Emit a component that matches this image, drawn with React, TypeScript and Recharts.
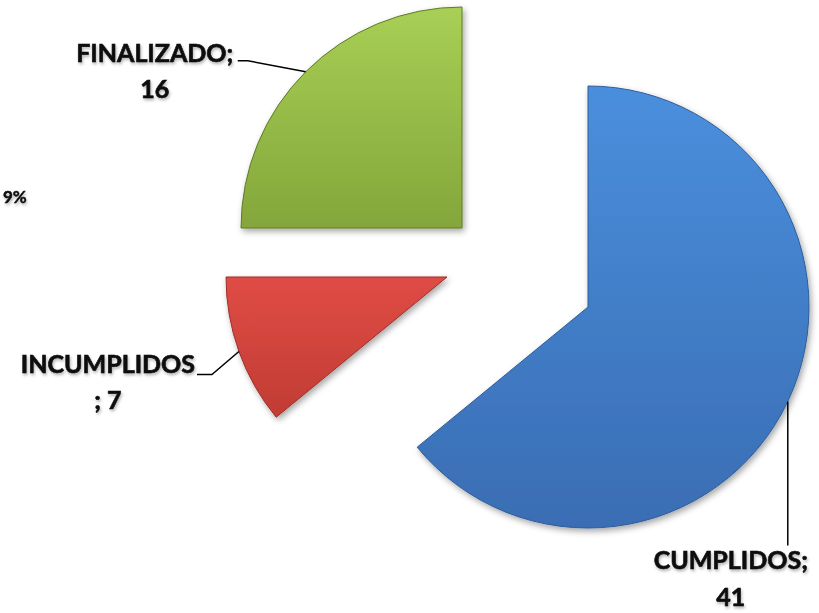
import { FC } from "react";
import { Cell, Pie, PieChart } from "recharts";

const names = ["CUMPLIDOS", "INCUMPLIDOS", "FINALIZADO"];
const counts = [41, 7, 16];
const strayLabel = "9%";

const colors = [
  { id: "gBlue", top: "#4a8fdd", bottom: "#3a6db3", edge: "#2f5c99" },
  { id: "gRed", top: "#df4c45", bottom: "#c13c34", edge: "#9c2e28" },
  { id: "gGreen", top: "#a8cf55", bottom: "#84a63b", edge: "#5f7a26" },
];

// exploded slices: each one gets its own pie centre
const centers = [
  { cx: 588, cy: 307 },
  { cx: 447, cy: 277 },
  { cx: 462, cy: 228 },
];

// label geometry relative to the point where the leader line leaves the slice
const labelLayout = [
  { line: [[0, 144]], tx: -57, ty: 168, gap: 37, l1: (n: string) => `${n};`, l2: (v: number) => `${v}` },
  { line: [[-27, 23], [-42, 23]], tx: -131, ty: 22, gap: 36, l1: (n: string) => n, l2: (v: number) => `; ${v}` },
  { line: [[-58, -11], [-68, -11]], tx: -151, ty: -10, gap: 36, l1: (n: string) => `${n};`, l2: (v: number) => `${v}` },
];

const data = names.map((name, i) => ({ name, value: counts[i] }));
const RAD = Math.PI / 180;
const R = 221;

const makeLabel = (target: number) => (props: any) => {
  const { cx, cy, midAngle, index, name, value } = props;
  if (index !== target) return null;
  const ax = cx + R * Math.cos(-midAngle * RAD);
  const ay = cy + R * Math.sin(-midAngle * RAD);
  const lay = labelLayout[target];
  const pts = [[ax, ay], ...lay.line.map(([dx, dy]) => [ax + dx, ay + dy])];
  return (
    <g>
      <polyline
        points={pts.map((p) => p.join(",")).join(" ")}
        fill="none"
        stroke="#000"
        strokeWidth={1.5}
      />
      <text
        x={ax + lay.tx}
        y={ay + lay.ty}
        textAnchor="middle"
        fontFamily="Lato, sans-serif"
        fontWeight={700}
        fontSize={25}
        fill="#0a0a0a"
        stroke="#0a0a0a"
        strokeWidth={0.6}
        filter="url(#txtShadow)"
      >
        <tspan x={ax + lay.tx} dy={0}>
          {lay.l1(name)}
        </tspan>
        <tspan x={ax + lay.tx} dy={lay.gap}>
          {lay.l2(value)}
        </tspan>
      </text>
    </g>
  );
};

const App: FC = () => {
  return (
    <div style={{ position: "absolute", left: 0, top: 0, background: "#fff" }}>
      <PieChart width={819} height={613} margin={{ top: 0, right: 0, bottom: 0, left: 0 }}>
        <defs>
          {colors.map((c) => (
            <linearGradient key={c.id} id={c.id} x1="0" y1="0" x2="0" y2="1">
              <stop offset="0%" stopColor={c.top} />
              <stop offset="100%" stopColor={c.bottom} />
            </linearGradient>
          ))}
          <filter id="sliceShadow" x="-10%" y="-10%" width="125%" height="125%">
            <feDropShadow dx={2} dy={3} stdDeviation={3} floodColor="#000" floodOpacity={0.35} />
          </filter>
          <filter id="txtShadow" x="-10%" y="-20%" width="120%" height="160%">
            <feDropShadow dx={1} dy={2} stdDeviation={1.5} floodColor="#000" floodOpacity={0.3} />
          </filter>
        </defs>
        {centers.map((c, target) => (
          <Pie
            key={names[target]}
            data={data}
            dataKey="value"
            nameKey="name"
            cx={c.cx}
            cy={c.cy}
            outerRadius={R}
            startAngle={90}
            endAngle={-270}
            label={makeLabel(target)}
            labelLine={false}
            isAnimationActive={false}
          >
            {data.map((d, i) => (
              <Cell
                key={d.name}
                fill={i === target ? `url(#${colors[i].id})` : "none"}
                stroke={i === target ? colors[i].edge : "none"}
                strokeWidth={1}
                filter={i === target ? "url(#sliceShadow)" : undefined}
              />
            ))}
          </Pie>
        ))}
        <text
          x={3}
          y={203}
          fontFamily="Lato, sans-serif"
          fontWeight={700}
          fontSize={17}
          fill="#0a0a0a"
          stroke="#0a0a0a"
          strokeWidth={0.4}
          filter="url(#txtShadow)"
        >
          {strayLabel}
        </text>
      </PieChart>
    </div>
  );
};

export default App;
